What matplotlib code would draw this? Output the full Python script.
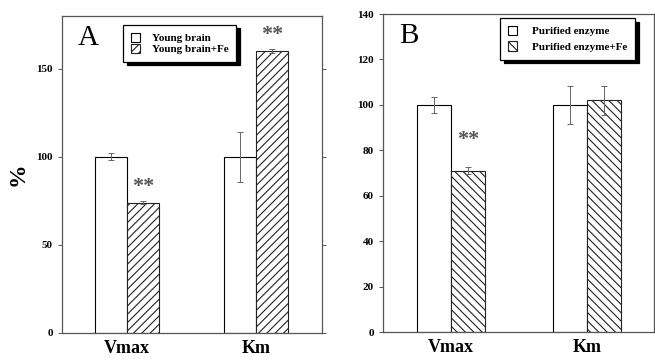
import numpy as np
import matplotlib
matplotlib.use('Agg')
from matplotlib import pyplot as plt

plt.rcParams['font.family'] = 'Liberation Serif'
plt.rcParams['hatch.linewidth'] = 0.8

# du lieu doc tu hinh
params = ['Vmax', 'Km']

young = [100, 100]
young_err = [2, 14]
young_fe = [74, 160]
young_fe_err = [1, 1]
young_stars = ['**', '**']

enz = [100, 100]
enz_err = [3.5, 8.5]
enz_fe = [71, 102]
enz_fe_err = [1.5, 6.5]
enz_stars = ['**', '']

fig = plt.figure(figsize=(6.55, 3.6), dpi=100)
axA = fig.add_axes([62/655, 27/360, 260/655, 317/360])
axB = fig.add_axes([383/655, 28/360, 271/655, 318/360])

x = np.arange(1, len(params) + 1)
w = 0.25


def ve_panel(ax, a, a_err, b, b_err, stars, hatch, lab1, lab2, letter,
             ylim, yticks, xlim, star_off, leg_pos, leg_space, leg_gap):
    ax.bar(x - w/2, a, w, color='white', edgecolor='black', linewidth=0.8,
           label=lab1, zorder=2)
    ax.bar(x + w/2, b, w, color='white', edgecolor='#222222', linewidth=0.8,
           hatch=hatch, label=lab2, zorder=2)
    ax.errorbar(x - w/2, a, yerr=a_err, fmt='none', ecolor='#666666',
                elinewidth=0.7, capsize=2.5, capthick=0.7, zorder=3)
    ax.errorbar(x + w/2, b, yerr=b_err, fmt='none', ecolor='#666666',
                elinewidth=0.7, capsize=2.5, capthick=0.7, zorder=3)
    for xi, v, e, s in zip(x, b, b_err, stars):
        if s:
            ax.text(xi + w/2, v + e + star_off, s, ha='center', va='center',
                    fontsize=16, fontweight='bold', color='#555555')
    ax.set_xlim(*xlim)
    ax.set_ylim(*ylim)
    ax.set_yticks(yticks)
    ax.set_xticks(x)
    ax.set_xticklabels(params, fontsize=13, fontweight='bold')
    ax.tick_params(axis='x', length=0, pad=5)
    ax.tick_params(axis='y', labelsize=8, length=3, width=0.7,
                   color='#555555', right=True, direction='out')
    for t in ax.get_yticklabels():
        t.set_fontweight('bold')
    for sp in ax.spines.values():
        sp.set_color('#555555')
        sp.set_linewidth(0.9)
    ax.text(0.06, 0.93, letter, transform=ax.transAxes, fontsize=21,
            ha='left', va='center')
    leg = ax.legend(loc='upper left', bbox_to_anchor=leg_pos, fancybox=False,
                    edgecolor='black', framealpha=1,
                    shadow={'color': 'black', 'alpha': 1, 'ox': 2.5, 'oy': -2.5},
                    prop={'family': 'Liberation Serif', 'weight': 'bold', 'size': 8},
                    handlelength=0.8, handleheight=0.9, labelspacing=leg_space,
                    borderpad=0.7, handletextpad=leg_gap, borderaxespad=0)
    leg.get_frame().set_linewidth(0.9)


ve_panel(axA, young, young_err, young_fe, young_fe_err, young_stars, '////',
         'Young brain', 'Young brain+Fe', 'A',
         (0, 180), [0, 50, 100, 150], (0.496, 2.512), 8, (0.235, 0.972), 0.05, 1.1)
ve_panel(axB, enz, enz_err, enz_fe, enz_fe_err, enz_stars, '\\\\\\\\',
         'Purified enzyme', 'Purified enzyme+Fe', 'B',
         (0, 140), list(range(0, 141, 20)), (0.5, 2.49), 12, (0.432, 0.987), 0.45, 1.4)

axA.set_ylabel('%', fontsize=17, fontweight='bold', labelpad=6)

fig.savefig('out.png', dpi=100)
